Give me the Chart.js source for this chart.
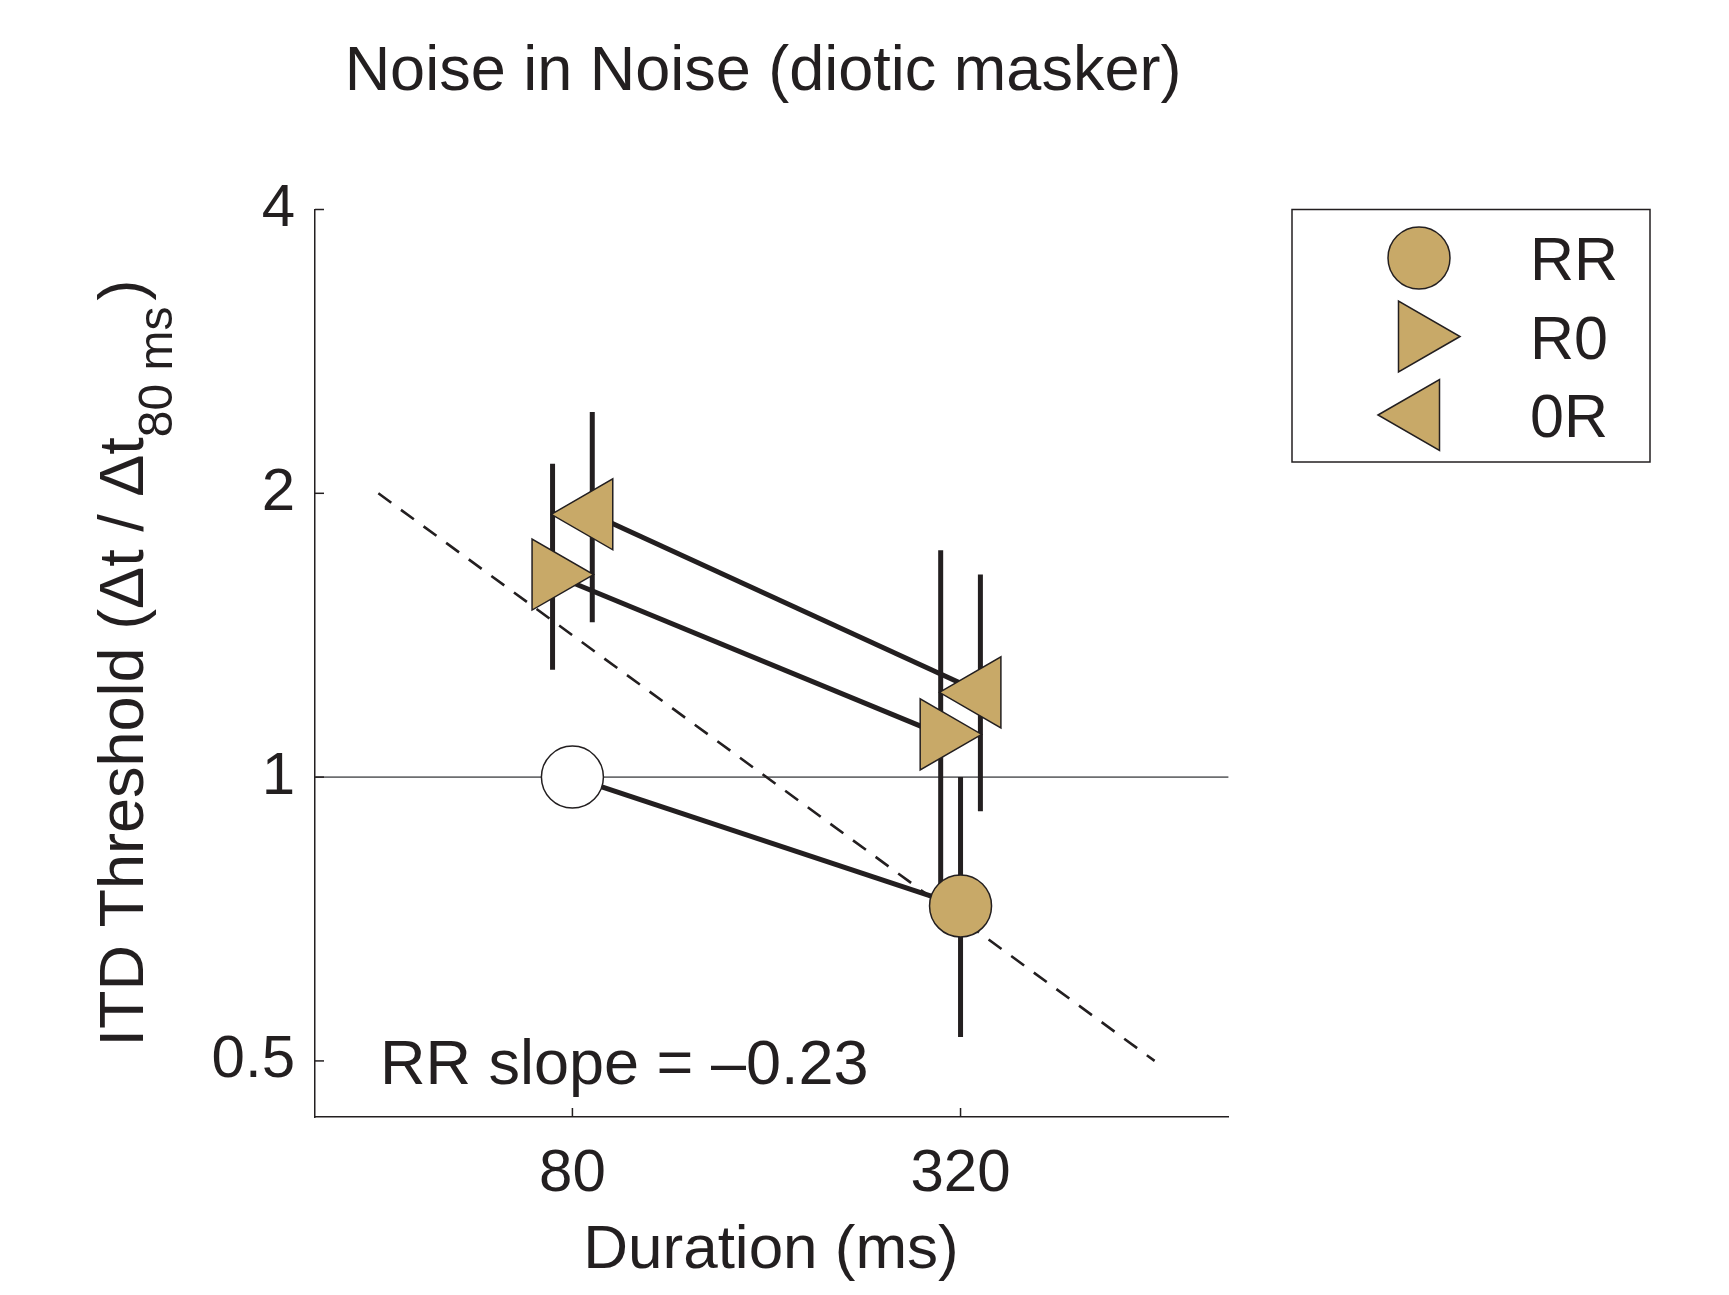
<!DOCTYPE html>
<html>
<head>
<meta charset="utf-8">
<title>Noise in Noise (diotic masker)</title>
<script src="https://cdn.jsdelivr.net/npm/chart.js@4.4.1/dist/chart.umd.min.js"></script>
<style>
  html, body { margin: 0; padding: 0; background: #fff; }
</style>
</head>
<body>
<canvas id="myChart" width="1729" height="1295"></canvas>
<script>
// durations (ms)
const durations = [80, 320];
// ITD thresholds, relative to RR at 80 ms
const rrMean = [1.0, 0.73];
const rrLow = [null, 0.53];
const rrHigh = [null, 1.0];
const r0Mean = [1.64, 1.11];
const r0Low = [1.30, 0.71];
const r0High = [2.15, 1.74];
const or0Mean = [1.90, 1.23];
const or0Low = [1.46, 0.92];
const or0High = [2.44, 1.64];
// dashed reference line
const fitX = [40, 640];
const fitY = [2, 0.5];
// axis ticks
const xTicks = [80, 320];
const yTicks = [0.5, 1, 2, 4];
const seriesNames = ['RR', 'R0', '0R'];
const slopeText = 'RR slope = \u20130.23';

const dark = '#231f20';
const tan = '#c8a968';
const family = "'Liberation Sans', Arial, Helvetica, sans-serif";
// R0 and 0R are drawn a bit left / right of the real duration so they don't overlap
const nudge = 1.0735;

function pts(xs, ys, k) {
    return xs.map((x, i) => ({ x: x * k, y: ys[i] }));
}

function line(ctx, x1, y1, x2, y2) {
    ctx.beginPath();
    ctx.moveTo(x1, y1);
    ctx.lineTo(x2, y2);
    ctx.stroke();
}

const errorBars = {
    id: 'errorBars',
    beforeDatasetsDraw(chart) {
        const { ctx, chartArea, scales: { x, y } } = chart;
        ctx.save();
        // horizontal line at 1
        ctx.strokeStyle = '#6d6e70';
        ctx.lineWidth = 1.6;
        const y1 = y.getPixelForValue(1);
        line(ctx, chartArea.left, y1, chartArea.right, y1);

        // inward tick marks
        ctx.strokeStyle = dark;
        ctx.lineWidth = 1.5;
        xTicks.forEach(v => {
            const px = x.getPixelForValue(v);
            line(ctx, px, chartArea.bottom, px, chartArea.bottom - 9);
        });
        yTicks.forEach(v => {
            const py = y.getPixelForValue(v);
            line(ctx, chartArea.left, py, chartArea.left + 9, py);
        });

        // error bars
        ctx.lineWidth = 5;
        ctx.lineCap = 'butt';
        const bars = [[1, rrLow, rrHigh], [1 / nudge, r0Low, r0High], [nudge, or0Low, or0High]];
        bars.forEach(([k, lo, hi]) => {
            durations.forEach((d, i) => {
                if (lo[i] == null) return;
                const px = x.getPixelForValue(d * k);
                line(ctx, px, y.getPixelForValue(lo[i]), px, y.getPixelForValue(hi[i]));
            });
        });
        ctx.restore();
    }
};

const decorations = {
    id: 'decorations',
    afterDraw(chart) {
        const { ctx, chartArea } = chart;
        ctx.save();
        ctx.fillStyle = dark;
        ctx.textBaseline = 'alphabetic';

        // title
        ctx.font = '63px ' + family;
        ctx.textAlign = 'center';
        ctx.fillText('Noise in Noise (diotic masker)', 763, 90);

        // x title
        ctx.font = '62px ' + family;
        ctx.fillText('Duration (ms)', 771, 1268);

        // slope note
        ctx.font = '63px ' + family;
        ctx.textAlign = 'left';
        ctx.fillText(slopeText, chartArea.left + 65, 1084);

        // y title with subscript
        ctx.save();
        ctx.translate(143, 663);
        ctx.rotate(-Math.PI / 2);
        const mainFont = '63px ' + family;
        const subFont = '48px ' + family;
        const p1 = 'ITD Threshold (\u0394t / \u0394t';
        const p2 = '80 ms';
        const p3 = ')';
        ctx.font = mainFont;
        const w1 = ctx.measureText(p1).width;
        const w3 = ctx.measureText(p3).width;
        ctx.font = subFont;
        const w2 = ctx.measureText(p2).width;
        let sx = -(w1 + w2 + w3 + 6) / 2;
        ctx.font = mainFont;
        ctx.fillText(p1, sx, 0);
        sx += w1;
        ctx.font = subFont;
        ctx.fillText(p2, sx, 29);
        sx += w2 + 6;
        ctx.font = mainFont;
        ctx.fillText(p3, sx, 0);
        ctx.restore();

        // legend
        ctx.strokeStyle = dark;
        ctx.lineWidth = 1.5;
        ctx.strokeRect(1292, 209.5, 358, 252.5);
        const rows = [258, 336.5, 415];
        ctx.font = '61px ' + family;
        seriesNames.forEach((name, i) => {
            const ds = chart.data.datasets[i];
            const opts = {
                pointStyle: ds.pointStyle,
                rotation: ds.pointRotation,
                radius: ds.pointRadius,
                borderWidth: ds.pointBorderWidth
            };
            ctx.fillStyle = tan;
            ctx.strokeStyle = dark;
            ctx.lineWidth = ds.pointBorderWidth;
            Chart.helpers.drawPoint(ctx, opts, 1419, rows[i]);
            ctx.fillStyle = dark;
            ctx.fillText(name, 1530, rows[i] + 22);
        });
        ctx.restore();
    }
};

new Chart(document.getElementById('myChart'), {
    type: 'line',
    data: {
        datasets: [
            {
                label: seriesNames[0],
                data: pts(durations, rrMean, 1),
                borderColor: dark,
                borderWidth: 5,
                pointStyle: 'circle',
                pointRotation: 0,
                pointRadius: 31,
                pointBackgroundColor: ['#ffffff', tan],
                pointBorderColor: dark,
                pointBorderWidth: 1.5
            },
            {
                label: seriesNames[1],
                data: pts(durations, r0Mean, 1 / nudge),
                borderColor: dark,
                borderWidth: 5,
                pointStyle: 'triangle',
                pointRotation: 90,
                pointRadius: 41,
                pointBackgroundColor: tan,
                pointBorderColor: dark,
                pointBorderWidth: 1.5
            },
            {
                label: seriesNames[2],
                data: pts(durations, or0Mean, nudge),
                borderColor: dark,
                borderWidth: 5,
                pointStyle: 'triangle',
                pointRotation: -90,
                pointRadius: 41,
                pointBackgroundColor: tan,
                pointBorderColor: dark,
                pointBorderWidth: 1.5
            },
            {
                label: 'fit',
                data: pts(fitX, fitY, 1),
                borderColor: dark,
                borderWidth: 2.6,
                borderDash: [16, 12],
                pointRadius: 0
            }
        ]
    },
    options: {
        responsive: false,
        animation: false,
        layout: { padding: { top: 209.5, right: 500.6, left: 0, bottom: 0 } },
        plugins: {
            legend: { display: false },
            tooltip: { enabled: false },
            title: { display: false }
        },
        scales: {
            x: {
                type: 'logarithmic',
                position: 'bottom',
                min: 31.9,
                max: 833,
                afterBuildTicks: s => { s.ticks = xTicks.map(v => ({ value: v })); },
                afterFit: s => { s.height = 178; },
                grid: { display: false, drawTicks: false },
                border: { display: true, color: dark, width: 1.5 },
                ticks: {
                    color: dark,
                    font: { family: family, size: 60 },
                    padding: 21,
                    autoSkip: false,
                    maxRotation: 0,
                    callback: v => String(v)
                }
            },
            y: {
                type: 'logarithmic',
                position: 'left',
                min: 0.436,
                max: 4,
                afterBuildTicks: s => { s.ticks = yTicks.map(v => ({ value: v })); },
                afterFit: s => { s.width = 315; },
                grid: { display: false, drawTicks: false },
                border: { display: true, color: dark, width: 1.5 },
                ticks: {
                    color: dark,
                    font: { family: family, size: 60 },
                    padding: 20,
                    autoSkip: false,
                    callback: v => String(v)
                }
            }
        }
    },
    plugins: [errorBars, decorations]
});
</script>
</body>
</html>
